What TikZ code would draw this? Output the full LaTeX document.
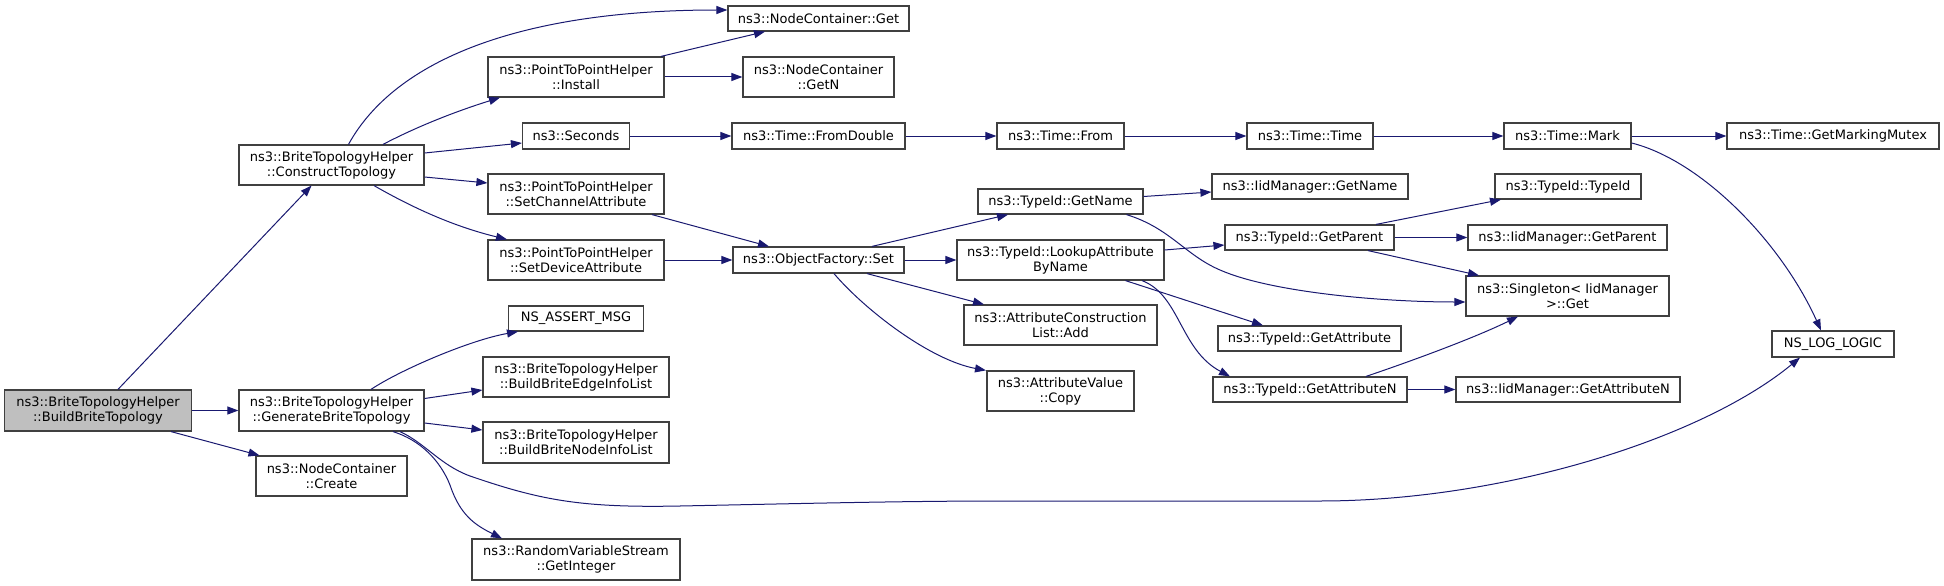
\documentclass[tikz,border=0pt]{standalone}
\usepackage{fontspec}
\setmainfont{DejaVu Sans}
\usetikzlibrary{arrows.meta}
\definecolor{edgec}{HTML}{191970}
\definecolor{boxc}{HTML}{404040}
\definecolor{rootc}{HTML}{BFBFBF}
\begin{document}
\begin{tikzpicture}[x=1pt,y=-1pt,
  fn/.style={draw=boxc, line width=1.2pt, fill=white, align=center, inner sep=0pt,
    font=\fontsize{13}{15}\selectfont},
  edge/.style={draw=edgec, line width=1pt, -{Triangle[length=11pt,width=8pt]}, fill=none}]
\useasboundingbox (0,0) rectangle (1944,586);
% nodes
\node[fn, fill=rootc, minimum width=187pt, minimum height=41pt] (build) at (98,410.5) {ns3::BriteTopologyHelper\\::BuildBriteTopology};
\node[fn, minimum width=185pt, minimum height=40pt] (construct) at (331.5,165) {ns3::BriteTopologyHelper\\::ConstructTopology};
\node[fn, minimum width=185pt, minimum height=41pt] (generate) at (331.5,410.5) {ns3::BriteTopologyHelper\\::GenerateBriteTopology};
\node[fn, minimum width=151pt, minimum height=40pt] (create) at (331.5,476) {ns3::NodeContainer\\::Create};
\node[fn, minimum width=181pt, minimum height=25pt] (ncget) at (818.5,18.5) {ns3::NodeContainer::Get};
\node[fn, minimum width=176pt, minimum height=40pt] (install) at (576,77) {ns3::PointToPointHelper\\::Install};
\node[fn, minimum width=151pt, minimum height=40pt] (getn) at (818.5,77) {ns3::NodeContainer\\::GetN};
\node[fn, minimum width=107pt, minimum height=26pt] (seconds) at (576,136) {ns3::Seconds};
\node[fn, minimum width=176pt, minimum height=40pt] (setchan) at (576,194) {ns3::PointToPointHelper\\::SetChannelAttribute};
\node[fn, minimum width=176pt, minimum height=40pt] (setdev) at (576,260) {ns3::PointToPointHelper\\::SetDeviceAttribute};
\node[fn, minimum width=135pt, minimum height=25pt] (assert) at (576,318.5) {NS\_ASSERT\_MSG};
\node[fn, minimum width=186pt, minimum height=40pt] (edgeinfo) at (576,377) {ns3::BriteTopologyHelper\\::BuildBriteEdgeInfoList};
\node[fn, minimum width=186pt, minimum height=41pt] (nodeinfo) at (576,442.5) {ns3::BriteTopologyHelper\\::BuildBriteNodeInfoList};
\node[fn, minimum width=208pt, minimum height=41pt] (rvs) at (576,559.5) {ns3::RandomVariableStream\\::GetInteger};
\node[fn, minimum width=173pt, minimum height=26pt] (fromdouble) at (818.5,136) {ns3::Time::FromDouble};
\node[fn, minimum width=171pt, minimum height=26pt] (ofset) at (818.5,260) {ns3::ObjectFactory::Set};
\node[fn, minimum width=127pt, minimum height=26pt] (from) at (1060.5,136) {ns3::Time::From};
\node[fn, minimum width=165pt, minimum height=25pt] (tgetname) at (1060.5,201.5) {ns3::TypeId::GetName};
\node[fn, minimum width=207pt, minimum height=40pt] (lookup) at (1060.5,260) {ns3::TypeId::LookupAttribute\\ByName};
\node[fn, minimum width=193pt, minimum height=40pt] (acladd) at (1060.5,325) {ns3::AttributeConstruction\\List::Add};
\node[fn, minimum width=147pt, minimum height=40pt] (avcopy) at (1060.5,391) {ns3::AttributeValue\\::Copy};
\node[fn, minimum width=126pt, minimum height=26pt] (ttime) at (1310,136) {ns3::Time::Time};
\node[fn, minimum width=196pt, minimum height=25pt] (iidgetname) at (1310,186.5) {ns3::IidManager::GetName};
\node[fn, minimum width=169pt, minimum height=25pt] (getparent) at (1309.5,237.5) {ns3::TypeId::GetParent};
\node[fn, minimum width=183pt, minimum height=25pt] (getattr) at (1309.5,338.5) {ns3::TypeId::GetAttribute};
\node[fn, minimum width=194pt, minimum height=25pt] (getattrn) at (1310,389.5) {ns3::TypeId::GetAttributeN};
\node[fn, minimum width=127pt, minimum height=26pt] (mark) at (1567.5,136) {ns3::Time::Mark};
\node[fn, minimum width=146pt, minimum height=25pt] (typeid) at (1568,186.5) {ns3::TypeId::TypeId};
\node[fn, minimum width=199pt, minimum height=25pt] (iidparent) at (1567.5,237.5) {ns3::IidManager::GetParent};
\node[fn, minimum width=203pt, minimum height=40pt] (singleton) at (1567.5,296) {ns3::Singleton< IidManager\\>::Get};
\node[fn, minimum width=224pt, minimum height=25pt] (iidattrn) at (1568,389.5) {ns3::IidManager::GetAttributeN};
\node[fn, minimum width=212pt, minimum height=26pt] (mutex) at (1833,136) {ns3::Time::GetMarkingMutex};
\node[fn, minimum width=122pt, minimum height=26pt] (loglogic) at (1833,344) {NS\_LOG\_LOGIC};
% edges
\draw[edge] ([xshift=20pt]build.north) -- ([xshift=-20pt]construct.south);
\draw[edge] (build.east) -- (generate.west);
\draw[edge] ([xshift=73pt]build.south) -- ([xshift=-72pt]create.north);
\draw[edge] ([xshift=17pt]construct.north) .. controls (395,60) and (520,10) .. ([yshift=8.5pt]ncget.west);
\draw[edge] ([xshift=51.5pt]construct.north) .. controls (420,125) and (460,110) .. ([xshift=-76pt]install.south);
\draw[edge] ([yshift=12pt]construct.east) -- ([yshift=-7pt]seconds.west);
\draw[edge] ([yshift=-12pt]construct.east) -- ([yshift=11pt]setchan.west);
\draw[edge] ([xshift=42.5pt]construct.south) .. controls (420,212) and (460,228) .. ([xshift=-69pt]setdev.north);
\draw[edge] ([xshift=85pt]install.north) -- ([xshift=-53.5pt]ncget.south);
\draw[edge] (install.east) -- (getn.west);
\draw[edge] (seconds.east) -- (fromdouble.west);
\draw[edge] (fromdouble.east) -- (from.west);
\draw[edge] (from.east) -- (ttime.west);
\draw[edge] (ttime.east) -- (mark.west);
\draw[edge] (mark.east) -- (mutex.west);
\draw[edge] ([yshift=-7pt]mark.east) .. controls (1700,160) and (1780,240) .. ([xshift=-12pt]loglogic.north);
\draw[edge] ([xshift=76pt]setchan.south) -- ([xshift=-49.5pt]ofset.north);
\draw[edge] (setdev.east) -- (ofset.west);
\draw[edge] ([xshift=53.5pt]ofset.north) -- ([xshift=-52.5pt]tgetname.south);
\draw[edge] (ofset.east) -- (lookup.west);
\draw[edge] ([xshift=48.5pt]ofset.south) -- ([xshift=-76.5pt]acladd.north);
\draw[edge] ([xshift=15.5pt]ofset.south) .. controls (865,310) and (930,360) .. ([xshift=-74.5pt]avcopy.north);
\draw[edge] ([yshift=5pt]tgetname.east) -- ([yshift=-5.5pt]iidgetname.west);
\draw[edge] ([xshift=66pt]tgetname.south) .. controls (1170,228) and (1185,255) .. (1220,270) .. controls (1270,292) and (1380,302) .. ([yshift=-6pt]singleton.west);
\draw[edge] ([yshift=10pt]lookup.east) -- ([yshift=-7.5pt]getparent.west);
\draw[edge] ([xshift=65pt]lookup.south) -- ([xshift=-46.5pt]getattr.north);
\draw[edge] ([xshift=81.5pt]lookup.south) .. controls (1180,295) and (1180,350) .. ([xshift=-80pt]getattrn.north);
\draw[edge] ([xshift=66.5pt]getparent.north) -- ([xshift=-67pt]typeid.south);
\draw[edge] (getparent.east) -- (iidparent.west);
\draw[edge] ([xshift=58.5pt]getparent.south) -- ([xshift=-88.5pt]singleton.north);
\draw[edge] ([xshift=56pt]getattrn.north) .. controls (1400,365) and (1470,340) .. ([xshift=-49.5pt]singleton.south);
\draw[edge] (getattrn.east) -- (iidattrn.west);
\draw[edge] ([xshift=39.5pt]generate.north) .. controls (400,370) and (470,340) .. ([xshift=-58pt]assert.south);
\draw[edge] ([yshift=12pt]generate.east) -- ([yshift=-13pt]edgeinfo.west);
\draw[edge] ([yshift=-12.5pt]generate.east) -- ([yshift=12.5pt]nodeinfo.west);
\draw[edge] ([xshift=61.5pt]generate.south) .. controls (420,440) and (440,460) .. (450,485) .. controls (460,515) and (475,525) .. ([xshift=-74pt]rvs.north);
\draw[edge] ([xshift=68.5pt]generate.south) .. controls (425,443) and (440,465) .. (470,476) .. controls (540,500) and (580,508) .. (680,506) .. controls (780,504) and (900,501) .. (1000,501) -- (1320,501) .. controls (1500,501) and (1700,440) .. ([xshift=-33pt]loglogic.south);
\end{tikzpicture}
\end{document}
